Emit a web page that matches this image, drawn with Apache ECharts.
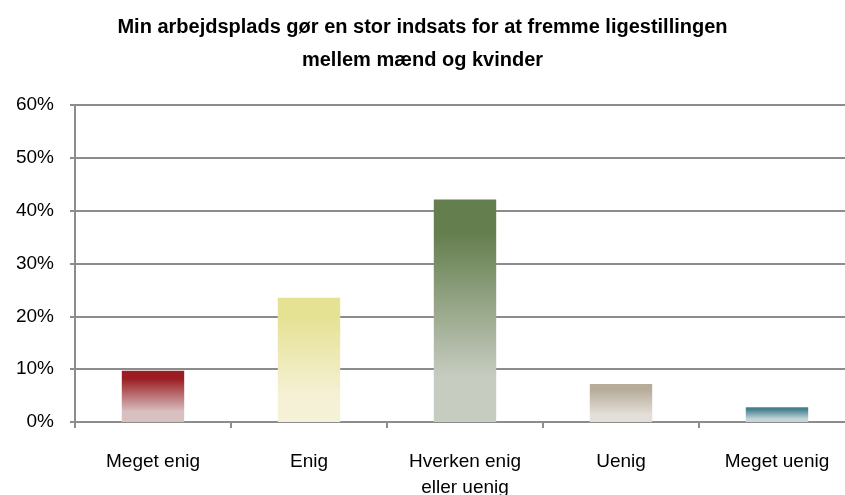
<!DOCTYPE html>
<html>
<head>
<meta charset="utf-8">
<script src="https://cdn.jsdelivr.net/npm/echarts@6/dist/echarts.min.js"></script>
<style>
  html, body { margin: 0; padding: 0; background: #fff; }
  #chart { width: 845px; height: 495px; }
</style>
</head>
<body>
<div id="chart"></div>
<script>
// data
const categories = ['Meget enig', 'Enig', 'Hverken enig\neller uenig', 'Uenig', 'Meget uenig'];
const values = [9.7, 23.5, 42.1, 7.2, 2.8];
const yTicks = [0, 10, 20, 30, 40, 50, 60];

// top / bottom colour of each bar's gradient
const topColors = ['#9b1c22', '#e6e294', '#647e4d', '#b6ac99', '#46808f'];
const bottomColors = ['#d8c0c1', '#f5f1d6', '#c7ccc1', '#e3ded8', '#c4d4d8'];

const font = '"Liberation Sans", Arial, sans-serif';

let chart = echarts.init(document.getElementById('chart'));
chart.setOption({
  animation: false,
  title: {
    text: 'Min arbejdsplads gør en stor indsats for at fremme ligestillingen\nmellem mænd og kvinder',
    left: 'center',
    top: 6,
    textStyle: {
      fontFamily: font,
      fontSize: 20,
      fontWeight: 'bold',
      color: '#000',
      lineHeight: 33
    }
  },
  grid: { left: 75, width: 780, top: 105, bottom: 73, outerBoundsMode: 'none', containLabel: false },
  xAxis: {
    type: 'category',
    data: categories,
    axisLine: { lineStyle: { color: '#8c8c8c', width: 2 } },
    axisTick: { show: true, length: 6, lineStyle: { color: '#8c8c8c', width: 2 } },
    axisLabel: {
      fontFamily: font, fontSize: 19, color: '#000',
      margin: 27, lineHeight: 26, interval: 0
    }
  },
  yAxis: {
    type: 'value',
    min: yTicks[0],
    max: yTicks[yTicks.length - 1],
    interval: 10,
    axisLine: { show: true, lineStyle: { color: '#8c8c8c', width: 2 } },
    axisTick: { show: true, length: 5, lineStyle: { color: '#8c8c8c', width: 2 } },
    splitLine: { lineStyle: { color: '#8c8c8c', width: 2 } },
    axisLabel: {
      fontFamily: font, fontSize: 19, color: '#000', margin: 21,
      formatter: v => v + '%'
    }
  },
  series: [{
    type: 'bar',
    barWidth: '40%',
    data: values.map((v, i) => ({
      value: v,
      itemStyle: {
        color: new echarts.graphic.LinearGradient(0, 0, 0, 1, [
          { offset: 0, color: topColors[i] },
          { offset: 0.15, color: topColors[i] },
          { offset: 0.8, color: bottomColors[i] },
          { offset: 1, color: bottomColors[i] }
        ])
      }
    }))
  }]
});
</script>
</body>
</html>
